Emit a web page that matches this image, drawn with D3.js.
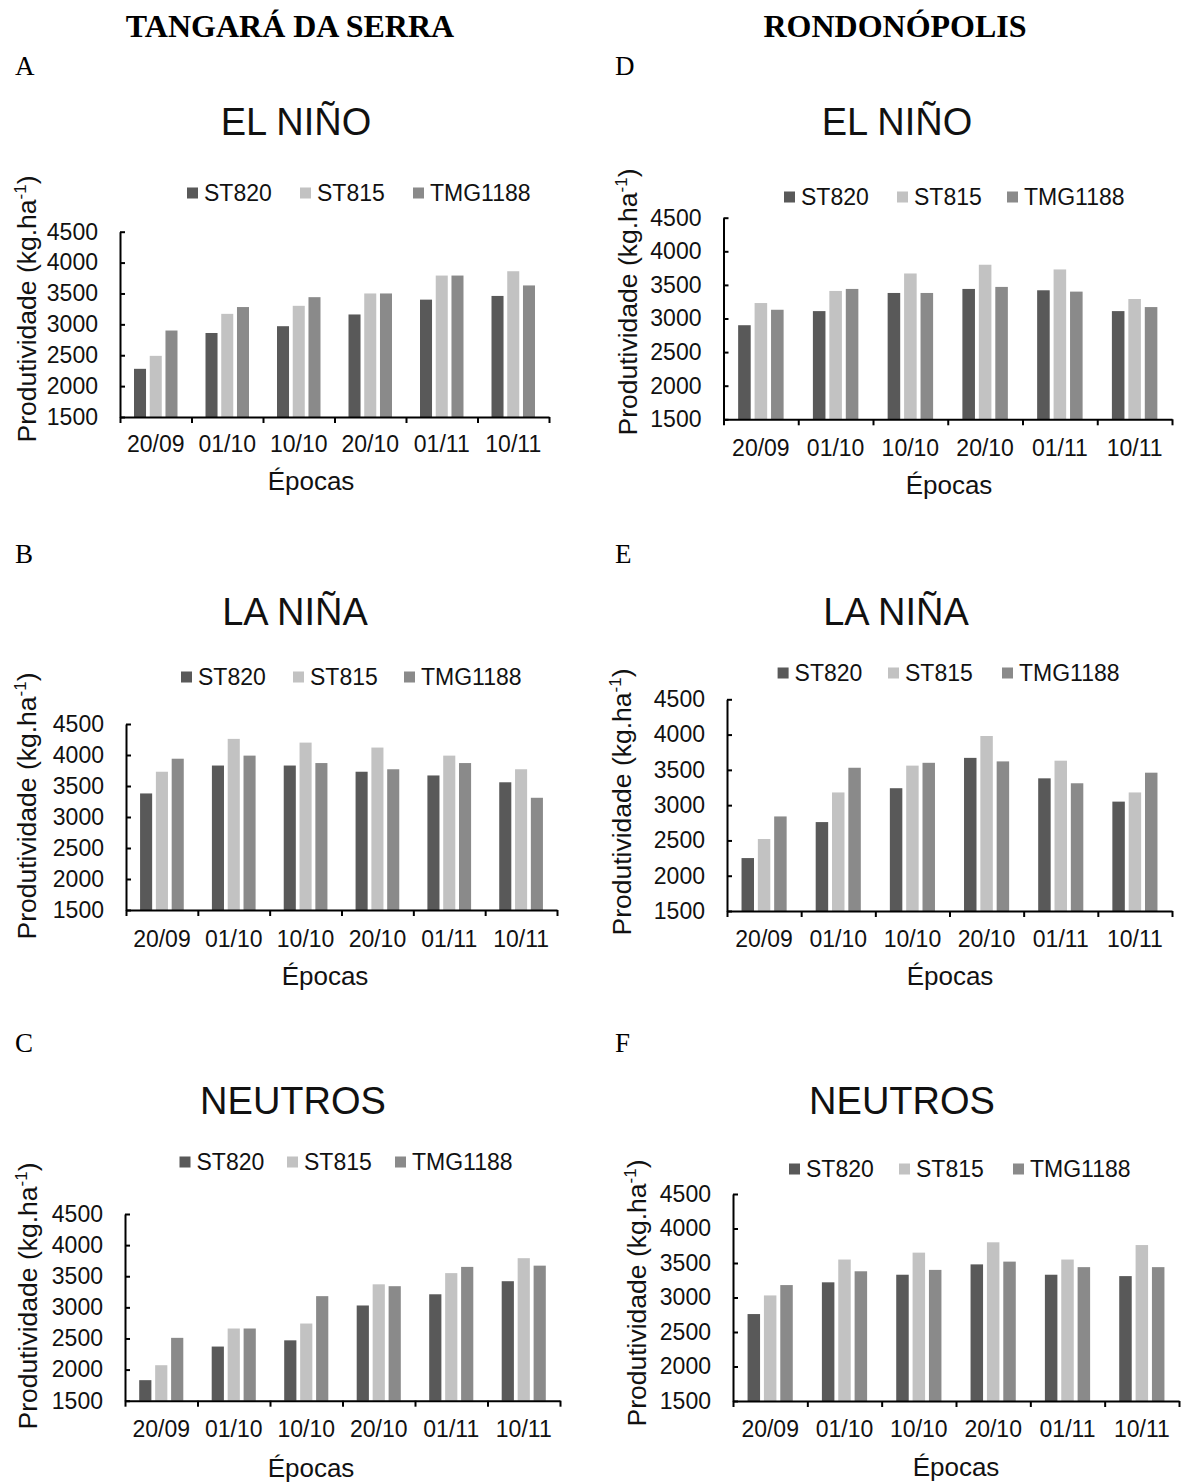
<!DOCTYPE html>
<html>
<head>
<meta charset="utf-8">
<script src="https://cdn.jsdelivr.net/npm/d3@7"></script>
<style>
  html, body { margin: 0; padding: 0; background: #fff; }
  svg { display: block; }
</style>
</head>
<body>
<svg id="chart" width="1184" height="1484"></svg>
<script>
// ---------- DATA ----------
const categories = ["20/09", "01/10", "10/10", "20/10", "01/11", "10/11"];
const seriesNames = ["ST820", "ST815", "TMG1188"];
const yTickValues = [1500, 2000, 2500, 3000, 3500, 4000, 4500];
const columnHeaders = ["TANGARÁ DA SERRA", "RONDONÓPOLIS"];
const panelTitles = ["EL NIÑO", "LA NIÑA", "NEUTROS"];
const panelLetters = ["A", "B", "C", "D", "E", "F"];

// A: Tangará da Serra – El Niño
const A_ST820   = [2280, 2860, 2970, 3160, 3400, 3460];
const A_ST815   = [2490, 3170, 3300, 3500, 3790, 3860];
const A_TMG1188 = [2900, 3280, 3440, 3500, 3790, 3630];
// B: Tangará da Serra – La Niña
const B_ST820   = [3380, 3830, 3830, 3730, 3670, 3560];
const B_ST815   = [3730, 4260, 4200, 4120, 3990, 3770];
const B_TMG1188 = [3940, 3990, 3870, 3770, 3870, 3310];
// C: Tangará da Serra – Neutros
const C_ST820   = [1830, 2370, 2470, 3030, 3210, 3420];
const C_ST815   = [2070, 2660, 2740, 3370, 3550, 3790];
const C_TMG1188 = [2510, 2660, 3180, 3340, 3650, 3670];
// D: Rondonópolis – El Niño
const D_ST820   = [2900, 3110, 3380, 3440, 3420, 3110];
const D_ST815   = [3230, 3410, 3670, 3800, 3730, 3290];
const D_TMG1188 = [3130, 3440, 3380, 3470, 3400, 3170];
// E: Rondonópolis – La Niña
const E_ST820   = [2250, 2760, 3240, 3670, 3380, 3050];
const E_ST815   = [2520, 3180, 3560, 3980, 3630, 3180];
const E_TMG1188 = [2840, 3530, 3600, 3620, 3310, 3460];
// F: Rondonópolis – Neutros
const F_ST820   = [2760, 3220, 3330, 3480, 3330, 3310];
const F_ST815   = [3030, 3550, 3650, 3800, 3550, 3760];
const F_TMG1188 = [3180, 3380, 3400, 3520, 3440, 3440];

// ---------- STYLE / LAYOUT ----------
const colors = ["#595959", "#c2c2c2", "#8a8a8a"];
const SANS = "'Liberation Sans', Arial, sans-serif";
const SERIF = "'Liberation Serif', 'Times New Roman', serif";

const panels = [
  { letter: panelLetters[0], title: panelTitles[0], series: [A_ST820, A_ST815, A_TMG1188],
    x0: 120, x1: 549, yTop: 231.7, yBot: 417, legY: 193, legX: [187, 300, 413],
    titleX: 296, titleY: 135, letterPos: [15, 75], ylab: [27, 309], tickY: 452, xtitleX: 311, xtitleY: 490 },
  { letter: panelLetters[1], title: panelTitles[1], series: [B_ST820, B_ST815, B_TMG1188],
    x0: 126, x1: 557, yTop: 724, yBot: 910, legY: 677, legX: [181, 293, 404],
    titleX: 295, titleY: 625, letterPos: [15, 563], ylab: [27, 806], tickY: 947, xtitleX: 325, xtitleY: 985 },
  { letter: panelLetters[2], title: panelTitles[2], series: [C_ST820, C_ST815, C_TMG1188],
    x0: 125, x1: 560, yTop: 1214, yBot: 1400.7, legY: 1162, legX: [179.5, 287, 395],
    titleX: 293, titleY: 1114, letterPos: [15, 1052], ylab: [28, 1296], tickY: 1437, xtitleX: 311, xtitleY: 1477 },
  { letter: panelLetters[3], title: panelTitles[0], series: [D_ST820, D_ST815, D_TMG1188],
    x0: 723.5, x1: 1172, yTop: 217.7, yBot: 419.3, legY: 197, legX: [784, 897, 1007],
    titleX: 897, titleY: 135, letterPos: [615, 75], ylab: [628, 302], tickY: 456, xtitleX: 949, xtitleY: 494 },
  { letter: panelLetters[4], title: panelTitles[1], series: [E_ST820, E_ST815, E_TMG1188],
    x0: 727, x1: 1172, yTop: 699.3, yBot: 911, legY: 673, legX: [777.6, 888, 1002],
    titleX: 896, titleY: 625, letterPos: [615, 563], ylab: [622, 802], tickY: 947, xtitleX: 950, xtitleY: 985 },
  { letter: panelLetters[5], title: panelTitles[2], series: [F_ST820, F_ST815, F_TMG1188],
    x0: 733, x1: 1179, yTop: 1194, yBot: 1401, legY: 1169, legX: [789, 899, 1013],
    titleX: 902, titleY: 1114, letterPos: [615, 1052], ylab: [637, 1293], tickY: 1437, xtitleX: 956, xtitleY: 1476 }
];

const svg = d3.select("#chart");

// Column headers
svg.append("text").attr("x", 290).attr("y", 37).attr("text-anchor", "middle")
  .attr("font-family", SERIF).attr("font-weight", "bold").attr("font-size", 32)
  .text(columnHeaders[0]);
svg.append("text").attr("x", 895).attr("y", 37).attr("text-anchor", "middle")
  .attr("font-family", SERIF).attr("font-weight", "bold").attr("font-size", 32)
  .text(columnHeaders[1]);

panels.forEach(p => {
  const g = svg.append("g");

  // letter
  g.append("text").attr("x", p.letterPos[0]).attr("y", p.letterPos[1])
    .attr("font-family", SERIF).attr("font-size", 27).text(p.letter);

  // title
  g.append("text").attr("x", p.titleX).attr("y", p.titleY).attr("text-anchor", "middle")
    .attr("font-family", SANS).attr("font-size", 38).attr("fill", "#111").text(p.title);

  // scales
  const x = d3.scaleBand().domain(categories).range([p.x0, p.x1]).paddingInner(0).paddingOuter(0);
  const xs = d3.scaleBand().domain(seriesNames).range([0, x.bandwidth()])
    .paddingInner(0.236).paddingOuter(0.89);
  const xl = d3.scaleLinear().domain([0, categories.length]).range([p.x0, p.x1]);
  const y = d3.scaleLinear().domain([1500, 4500]).range([p.yBot, p.yTop]);

  // bars
  p.series.forEach((vals, si) => {
    g.append("g").selectAll("rect").data(vals).join("rect")
      .attr("x", (d, i) => x(categories[i]) + xs(seriesNames[si]))
      .attr("width", xs.bandwidth())
      .attr("y", d => y(d))
      .attr("height", d => y(1500) - y(d))
      .attr("fill", colors[si]);
  });

  // y axis (ticks point inward)
  const yAxis = g.append("g").attr("transform", `translate(${p.x0},0)`)
    .call(d3.axisLeft(y).tickValues(yTickValues).tickSize(-5).tickSizeOuter(0).tickPadding(22)
      .tickFormat(d3.format("d")));
  yAxis.select(".domain").attr("stroke", "#000").attr("stroke-width", 2);
  yAxis.selectAll(".tick line").attr("stroke", "#000").attr("stroke-width", 2);
  yAxis.selectAll(".tick text").attr("font-family", SANS).attr("font-size", 23).attr("fill", "#111");

  // x axis: boundary ticks
  const xTicks = g.append("g").attr("transform", `translate(0,${p.yBot})`)
    .call(d3.axisBottom(xl).tickValues(d3.range(categories.length + 1)).tickSize(6)
      .tickSizeOuter(0).tickFormat(""));
  xTicks.select(".domain").attr("stroke", "#000").attr("stroke-width", 2);
  xTicks.selectAll(".tick line").attr("stroke", "#000").attr("stroke-width", 2);

  // x axis: category labels
  const xLab = g.append("g").attr("transform", `translate(0,${p.yBot})`)
    .call(d3.axisBottom(x).tickSize(0).tickPadding(0));
  xLab.select(".domain").remove();
  xLab.selectAll(".tick text").attr("font-family", SANS).attr("font-size", 23).attr("fill", "#111")
    .attr("dy", null).attr("y", p.tickY - p.yBot);

  // x title
  g.append("text").attr("x", p.xtitleX).attr("y", p.xtitleY).attr("text-anchor", "middle")
    .attr("font-family", SANS).attr("font-size", 26).attr("fill", "#111").text("Épocas");

  // y title
  const yt = g.append("text")
    .attr("transform", `translate(${p.ylab[0]},${p.ylab[1]}) rotate(-90)`)
    .attr("text-anchor", "middle").attr("dy", "0.35em")
    .attr("font-family", SANS).attr("font-size", 26.5).attr("fill", "#111");
  yt.append("tspan").text("Produtividade (kg.ha");
  yt.append("tspan").attr("font-size", 17).attr("dy", -10).text("-1");
  yt.append("tspan").attr("dy", 10).text(")");

  // legend
  seriesNames.forEach((name, si) => {
    g.append("rect").attr("x", p.legX[si]).attr("y", p.legY - 5.5)
      .attr("width", 11).attr("height", 11).attr("fill", colors[si]);
    g.append("text").attr("x", p.legX[si] + 17).attr("y", p.legY + 8)
      .attr("font-family", SANS).attr("font-size", 23).attr("fill", "#111").text(name);
  });
});
</script>
</body>
</html>
